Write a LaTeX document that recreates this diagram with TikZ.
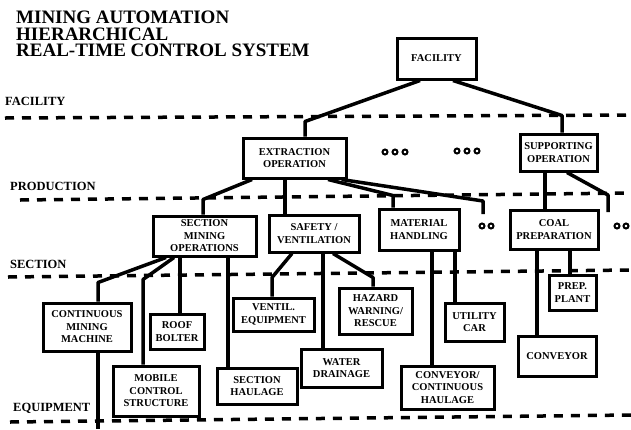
\documentclass[tikz,border=0pt]{standalone}
\usepackage{fontspec}
\setmainfont{Liberation Serif}
\begin{document}
\begin{tikzpicture}[x=1pt,y=-1pt,
  blk/.style={draw, line width=3pt, fill=white, inner sep=1pt, align=center,
    font=\fontsize{10.5}{12.5}\selectfont\bfseries},
  link/.style={line width=3.5pt, line join=round},
  level/.style={line width=3.5pt, dash pattern=on 9pt off 8pt},
  lvltext/.style={anchor=west, inner sep=0pt, font=\fontsize{12.5}{14}\selectfont\bfseries},
  ttl/.style={anchor=north west, inner sep=0pt, align=left, font=\fontsize{19}{16.5}\selectfont\bfseries},
  dot/.style={line width=2pt}]
\useasboundingbox (0,0) rectangle (631,429);

% title
\node[ttl] (title) at (16,11) {MINING AUTOMATION\\HIERARCHICAL\\REAL-TIME CONTROL SYSTEM};

% hierarchy levels
\node[lvltext] (lf) at (5,101) {FACILITY};
\node[lvltext] (lp) at (10,186) {PRODUCTION};
\node[lvltext] (ls) at (10,264) {SECTION};
\node[lvltext] (le) at (13,408) {EQUIPMENT};
\draw[level] (5,118) -- (631,115);
\draw[level] (20,200) -- (631,193);
\draw[level] (8,277) -- (631,270);
\draw[level] (10,422) -- (631,415);

% blocks
\node[blk, minimum width=79pt, minimum height=41pt] (fac) at (436.5,58.5) {FACILITY};
\node[blk, minimum width=103pt, minimum height=40pt] (ext) at (294.5,158) {EXTRACTION\\OPERATION};
\node[blk, minimum width=77pt, minimum height=37pt] (sup) at (558.5,152.5) {SUPPORTING\\OPERATION};
\node[blk, minimum width=103pt, minimum height=40pt] (smo) at (204.5,236) {SECTION\\MINING\\OPERATIONS};
\node[blk, minimum width=90pt, minimum height=37pt] (saf) at (314,233.5) {SAFETY /\\VENTILATION};
\node[blk, minimum width=80pt, minimum height=41pt] (mat) at (419,229.5) {MATERIAL\\HANDLING};
\node[blk, minimum width=88pt, minimum height=39pt] (coal) at (554,229.5) {COAL\\PREPARATION};
\node[blk, minimum width=88pt, minimum height=48pt] (cmm) at (87,327) {CONTINUOUS\\MINING\\MACHINE};
\node[blk, minimum width=86pt, minimum height=50pt] (mcs) at (156,391) {MOBILE\\CONTROL\\STRUCTURE};
\node[blk, minimum width=54pt, minimum height=35pt] (roof) at (177,331.5) {ROOF\\BOLTER};
\node[blk, minimum width=80pt, minimum height=36pt] (shaul) at (257,386) {SECTION\\HAULAGE};
\node[blk, minimum width=81pt, minimum height=33pt] (vent) at (273.5,314.5) {VENTIL.\\EQUIPMENT};
\node[blk, minimum width=81pt, minimum height=38pt] (water) at (341.5,368) {WATER\\DRAINAGE};
\node[blk, minimum width=73pt, minimum height=46pt] (haz) at (375.5,311) {HAZARD\\WARNING/\\RESCUE};
\node[blk, minimum width=59pt, minimum height=38pt] (util) at (474.5,322) {UTILITY\\CAR};
\node[blk, minimum width=93pt, minimum height=43pt] (conv2) at (447.5,387.5) {CONVEYOR/\\CONTINUOUS\\HAULAGE};
\node[blk, minimum width=47pt, minimum height=35pt] (prep) at (572.5,292.5) {PREP.\\PLANT};
\node[blk, minimum width=78pt, minimum height=40pt] (conv) at (557,356) {CONVEYOR};

% open branch ends
\coordinate (extmore) at (483,214);
\coordinate (supmore) at (608,212);
\coordinate (cmmout) at (98,429);

% connectors
\draw[link] ([xshift=-16.5]fac.south) -- ([xshift=10.5,yshift=15]ext.north) -- ([xshift=10.5]ext.north);
\draw[link] ([xshift=16.5]fac.south) -- ([xshift=3.5,yshift=17]sup.north) -- ([xshift=3.5]sup.north);

\draw[link] ([xshift=-42.5]ext.south) -- ([xshift=-1.5,yshift=15]smo.north) -- ([xshift=-1.5]smo.north);
\draw[link] ([xshift=-9.5]ext.south) -- ([xshift=-9.5]ext.south |- saf.north);
\draw[link] ([xshift=33.5]ext.south) -- ([xshift=-26,yshift=12]mat.north) -- ([xshift=-26]mat.north);
\draw[link] ([xshift=-6]ext.south east) -- ([yshift=13]extmore) -- (extmore);

\draw[link] ([xshift=-13.5]sup.south) -- ([xshift=-13.5]sup.south |- coal.north);
\draw[link] ([xshift=8.5]sup.south) -- ([yshift=17]supmore) -- (supmore);

\draw[link] ([xshift=-38.5]smo.south) -- ([xshift=11,yshift=19]cmm.north) -- ([xshift=11]cmm.north);
\draw[link] ([xshift=-30.5]smo.south) -- ([xshift=-13,yshift=85]mcs.north) -- ([xshift=-13]mcs.north);
\draw[link] ([xshift=-24.5]smo.south) -- ([xshift=-24.5]smo.south |- roof.north);
\draw[link] ([xshift=23.5]smo.south) -- ([xshift=23.5]smo.south |- shaul.north);

\draw[link] ([xshift=-22]saf.south) -- ([xshift=-1.5,yshift=19]vent.north) -- ([xshift=-1.5]vent.north);
\draw[link] ([xshift=9]saf.south) -- ([xshift=9]saf.south |- water.north);
\draw[link] ([xshift=19]saf.south) -- ([xshift=-2.5,yshift=9]haz.north) -- ([xshift=-2.5]haz.north);

\draw[link] ([xshift=13]mat.south) -- ([xshift=13]mat.south |- conv2.north);
\draw[link] ([xshift=36]mat.south) -- ([xshift=36]mat.south |- util.north);

\draw[link] ([xshift=-17]coal.south) -- ([xshift=-17]coal.south |- conv.north);
\draw[link] ([xshift=16]coal.south) -- ([xshift=16]coal.south |- prep.north);

\draw[link] ([xshift=11]cmm.south) -- (cmmout);

% continuation marks
\foreach \x in {385,395,405} \draw[dot] (\x,152) circle[radius=2.5pt];
\foreach \x in {457,467,477} \draw[dot] (\x,151) circle[radius=2.5pt];
\foreach \x in {482,491} \draw[dot] (\x,226) circle[radius=2.5pt];
\foreach \x in {617,626} \draw[dot] (\x,226) circle[radius=2.5pt];
\end{tikzpicture}
\end{document}
